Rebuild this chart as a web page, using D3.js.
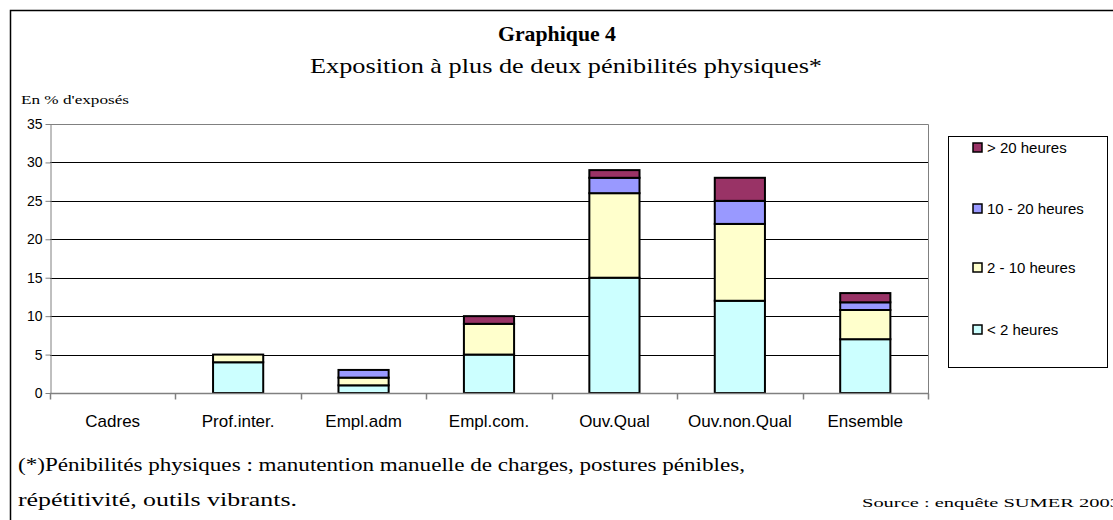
<!DOCTYPE html>
<html>
<head>
<meta charset="utf-8">
<script src="https://cdnjs.cloudflare.com/ajax/libs/d3/7.8.5/d3.min.js"></script>
<style>
  body { margin: 0; background: #fff; }
  svg { display: block; }
  .serif { font-family: "Liberation Serif", "Times New Roman", serif; }
  .sans { font-family: "Liberation Sans", Arial, sans-serif; }
</style>
</head>
<body>
<svg id="chart" width="1113" height="520"></svg>
<script>
// categories and series (% of exposed employees)
const categories = ["Cadres", "Prof.inter.", "Empl.adm", "Empl.com.", "Ouv.Qual", "Ouv.non.Qual", "Ensemble"]
const seriesNames = ["< 2 heures", "2 - 10 heures", "10 - 20 heures", "> 20 heures"]
const under2 = [0, 4, 1, 5, 15, 12, 7]
const from2to10 = [0, 1, 1, 4, 11, 10, 3.8]
const from10to20 = [0, 0, 1, 0, 2, 3, 1]
const over20 = [0, 0, 0, 1, 1, 3, 1.2]
const yTicks = [0, 5, 10, 15, 20, 25, 30, 35]
const colors = ["#CCFFFF", "#FFFFCC", "#9999FF", "#993366"]

const svg = d3.select("svg#chart")

// frame of the chart
svg.append("path")
    .attr("d", "M10.5,520 L10.5,10.5 L1113,10.5")
    .attr("fill", "none")
    .attr("stroke", "#000")
    .attr("stroke-width", 1.5)

// titles
svg.append("text").attr("class", "serif")
    .attr("x", 557).attr("y", 41)
    .attr("text-anchor", "middle")
    .attr("font-size", 21).attr("font-weight", "bold")
    .attr("textLength", 118).attr("lengthAdjust", "spacingAndGlyphs")
    .text("Graphique 4")
svg.append("text").attr("class", "serif")
    .attr("x", 566).attr("y", 73)
    .attr("text-anchor", "middle")
    .attr("font-size", 22)
    .attr("textLength", 512).attr("lengthAdjust", "spacingAndGlyphs")
    .text("Exposition à plus de deux pénibilités physiques*")
svg.append("text").attr("class", "serif")
    .attr("x", 21).attr("y", 104)
    .attr("font-size", 13)
    .attr("textLength", 108).attr("lengthAdjust", "spacingAndGlyphs")
    .text("En % d'exposés")

const margin = {left: 50, right: 928, top: 124, bottom: 393}

const x = d3.scaleBand()
    .domain(categories)
    .range([margin.left, margin.right])
    .paddingInner(0.6).paddingOuter(0.3)

const y = d3.scaleLinear()
    .domain([0, 35])
    .range([margin.bottom, margin.top])

// grid lines
svg.append("g")
    .selectAll("line")
    .data(yTicks.filter(d => d > 0 && d < 35))
    .join("line")
    .attr("x1", margin.left).attr("x2", margin.right)
    .attr("y1", d => Math.round(y(d)) + 0.5).attr("y2", d => Math.round(y(d)) + 0.5)
    .attr("stroke", "#000")

// plot area border top/right
svg.append("path")
    .attr("d", `M${margin.left},${Math.round(y(35)) + 0.5} L${margin.right + 0.5},${Math.round(y(35)) + 0.5} L${margin.right + 0.5},${margin.bottom}`)
    .attr("fill", "none")
    .attr("stroke", "#808080")

// stacked bars
const table = categories.map((c, i) => ({
    cat: c,
    s0: under2[i], s1: from2to10[i], s2: from10to20[i], s3: over20[i]
}))
const stack = d3.stack().keys(["s0", "s1", "s2", "s3"])(table)

svg.append("g")
    .selectAll("g")
    .data(stack)
    .join("g")
    .attr("fill", (d, i) => colors[i])
    .selectAll("rect")
    .data(d => d.filter(p => p[1] - p[0] > 0))
    .join("rect")
    .attr("x", d => x(d.data.cat))
    .attr("width", x.bandwidth())
    .attr("y", d => y(d[1]))
    .attr("height", d => y(d[0]) - y(d[1]))
    .attr("stroke", "#000")
    .attr("stroke-width", 2)

// y axis
const yAxis = svg.append("g")
    .attr("transform", `translate(${margin.left + 0.5},0)`)
    .call(d3.axisLeft(y).tickValues(yTicks).tickSize(5).tickSizeOuter(0))
yAxis.select(".domain").attr("stroke", "#808080")
yAxis.selectAll(".tick line").attr("stroke", "#808080")
yAxis.selectAll(".tick text")
    .attr("class", "sans")
    .attr("font-size", 14)
    .attr("fill", "#000")
    .attr("x", -8)

// x axis with ticks between categories
const xAxisG = svg.append("g")
    .attr("transform", `translate(0,${margin.bottom + 0.5})`)
xAxisG.append("line")
    .attr("x1", margin.left).attr("x2", margin.right + 1)
    .attr("stroke", "#808080").attr("stroke-width", 1.5)
const step = (margin.right - margin.left) / categories.length
xAxisG.selectAll("line.tk")
    .data(d3.range(categories.length + 1))
    .join("line")
    .attr("class", "tk")
    .attr("x1", d => Math.round(margin.left + d * step) + 0.5)
    .attr("x2", d => Math.round(margin.left + d * step) + 0.5)
    .attr("y1", 0).attr("y2", 6)
    .attr("stroke", "#808080").attr("stroke-width", 1.5)
xAxisG.selectAll("text")
    .data(categories)
    .join("text")
    .attr("class", "sans")
    .attr("x", d => x(d) + x.bandwidth() / 2)
    .attr("y", 33)
    .attr("text-anchor", "middle")
    .attr("font-size", 17)
    .text(d => d)

// legend
svg.append("rect")
    .attr("x", 948.5).attr("y", 136.5)
    .attr("width", 159).attr("height", 231)
    .attr("fill", "#fff").attr("stroke", "#000")
const legend = svg.append("g")
const legendY = [148, 209, 268, 330]
const legendOrder = [3, 2, 1, 0]
legend.selectAll("g")
    .data(legendOrder)
    .join("g")
    .attr("transform", (d, i) => `translate(973,${legendY[i]})`)
    .each(function(d) {
        const g = d3.select(this)
        g.append("rect")
            .attr("x", 0).attr("y", -5)
            .attr("width", 9).attr("height", 9)
            .attr("fill", colors[d]).attr("stroke", "#000").attr("stroke-width", 1.5)
        g.append("text")
            .attr("class", "sans")
            .attr("x", 14).attr("y", 5)
            .attr("font-size", 15)
            .text(seriesNames[d])
    })

// footnote and source
svg.append("text").attr("class", "serif")
    .attr("x", 18).attr("y", 471)
    .attr("font-size", 18)
    .attr("textLength", 727).attr("lengthAdjust", "spacingAndGlyphs")
    .text("(*)Pénibilités physiques : manutention manuelle de charges, postures pénibles,")
svg.append("text").attr("class", "serif")
    .attr("x", 18).attr("y", 506)
    .attr("font-size", 18)
    .attr("textLength", 279).attr("lengthAdjust", "spacingAndGlyphs")
    .text("répétitivité, outils vibrants.")
svg.append("text").attr("class", "serif")
    .attr("x", 862).attr("y", 507)
    .attr("font-size", 13)
    .attr("textLength", 258).attr("lengthAdjust", "spacingAndGlyphs")
    .text("Source : enquête SUMER 2003")
</script>
</body>
</html>
